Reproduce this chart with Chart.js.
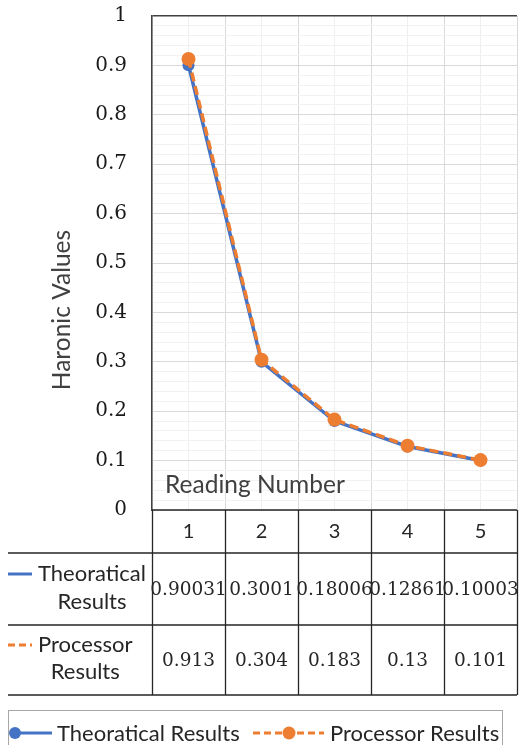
<!DOCTYPE html>
<html>
<head>
<meta charset="utf-8">
<script src="https://cdn.jsdelivr.net/npm/chart.js@4.4.0/dist/chart.umd.min.js"></script>
<style>
  html, body { margin: 0; padding: 0; background: #fff; overflow: hidden; }
  canvas { display: block; }
</style>
</head>
<body>
<canvas id="myChart" width="519" height="745" style="width:519px;height:745px"></canvas>
<script>
const readings = [1, 2, 3, 4, 5];
const theoretical = [0.90031, 0.3001, 0.18006, 0.12861, 0.10003];
const processor = [0.913, 0.304, 0.183, 0.13, 0.101];
const seriesNames = ["Theoratical Results", "Processor Results"];
const yLabels = ["0", "0.1", "0.2", "0.3", "0.4", "0.5", "0.6", "0.7", "0.8", "0.9", "1"];

const blue = "#4472C4";
const orange = "#ED7D31";
const dark = "#404040";
const sans = "Lato, 'Open Sans', sans-serif";
const serif = "'DejaVu Serif', serif";

const toPoints = (values) => readings.map((r, i) => ({ x: r, y: values[i] }));

// table under the plot + legend box, drawn from the same arrays
const tablePlugin = {
  id: "dataTable",
  afterDraw(chart) {
    const ctx = chart.ctx;
    const xs = chart.scales.x;
    const area = chart.chartArea;
    const rows = [area.bottom, 553, 625, 695];

    ctx.save();

    // y axis title
    ctx.save();
    ctx.translate(62, 310);
    ctx.rotate(-Math.PI / 2);
    ctx.font = "24.5px " + sans;
    ctx.fillStyle = dark;
    ctx.textAlign = "center";
    ctx.textBaseline = "middle";
    ctx.fillText("Haronic Values", 0, 0);
    ctx.restore();

    // x title sitting inside the plot
    ctx.font = "24.5px " + sans;
    ctx.fillStyle = dark;
    ctx.textAlign = "left";
    ctx.textBaseline = "middle";
    ctx.fillText("Reading Number", 165, 485);

    // table lines
    ctx.strokeStyle = "#262626";
    ctx.lineWidth = 1.3;
    ctx.beginPath();
    ctx.moveTo(area.left, rows[0]);
    ctx.lineTo(area.right, rows[0]);
    for (let i = 1; i < rows.length; i++) {
      ctx.moveTo(8, rows[i]);
      ctx.lineTo(area.right, rows[i]);
    }
    for (let i = 0; i <= readings.length; i++) {
      const px = Math.round(xs.getPixelForValue(readings[0] - 0.5 + i)) + 0.5;
      ctx.moveTo(px, rows[0]);
      ctx.lineTo(px, rows[3]);
    }
    ctx.stroke();

    // header row
    ctx.fillStyle = "#262626";
    ctx.textAlign = "center";
    ctx.font = "20px " + sans;
    readings.forEach((r) => {
      ctx.fillText(String(r), xs.getPixelForValue(r), 532);
    });

    // value rows
    ctx.font = "18.5px " + serif;
    theoretical.forEach((v, i) => {
      ctx.fillText(String(v), xs.getPixelForValue(readings[i]), 590);
    });
    processor.forEach((v, i) => {
      ctx.fillText(String(v), xs.getPixelForValue(readings[i]), 661);
    });

    // row headers with legend keys
    const rowLabel = (name, color, dash, y1, y2) => {
      const parts = name.split(" ");
      ctx.strokeStyle = color;
      ctx.lineWidth = 3;
      ctx.setLineDash(dash);
      ctx.beginPath();
      ctx.moveTo(8, y1);
      ctx.lineTo(32, y1);
      ctx.stroke();
      ctx.setLineDash([]);
      ctx.font = "22px " + sans;
      ctx.fillStyle = "#262626";
      const w = ctx.measureText(parts[0]).width;
      const cx = 38 + w / 2;
      ctx.textAlign = "center";
      ctx.fillText(parts[0], cx, y1);
      ctx.fillText(parts[1], cx, y2);
    };
    rowLabel(seriesNames[0], blue, [], 574, 602);
    rowLabel(seriesNames[1], orange, [7, 4], 645, 672);

    // legend box
    ctx.strokeStyle = "#a6a6a6";
    ctx.lineWidth = 1;
    ctx.strokeRect(8.5, 710.5, 494, 60);

    const ly = 733;
    ctx.lineWidth = 3;
    ctx.strokeStyle = blue;
    ctx.beginPath();
    ctx.moveTo(15, ly);
    ctx.lineTo(52, ly);
    ctx.stroke();
    ctx.fillStyle = blue;
    ctx.beginPath();
    ctx.arc(15, ly, 6, 0, Math.PI * 2);
    ctx.fill();

    ctx.strokeStyle = orange;
    ctx.setLineDash([7, 4]);
    ctx.beginPath();
    ctx.moveTo(253, ly);
    ctx.lineTo(324, ly);
    ctx.stroke();
    ctx.setLineDash([]);
    ctx.fillStyle = orange;
    ctx.beginPath();
    ctx.arc(289, ly, 6.5, 0, Math.PI * 2);
    ctx.fill();

    ctx.font = "22px " + sans;
    ctx.fillStyle = "#262626";
    ctx.textAlign = "left";
    ctx.fillText(seriesNames[0], 57, ly + 1);
    ctx.fillText(seriesNames[1], 330, ly + 1);

    ctx.restore();
  },
};

const ctx = document.getElementById("myChart");
new Chart(ctx, {
  type: "line",
  data: {
    datasets: [
      {
        label: seriesNames[0],
        data: toPoints(theoretical),
        borderColor: blue,
        backgroundColor: blue,
        borderWidth: 3.5,
        pointRadius: 6,
        pointBorderWidth: 0,
        pointBackgroundColor: blue,
        order: 2,
      },
      {
        label: seriesNames[1],
        data: toPoints(processor),
        borderColor: orange,
        backgroundColor: orange,
        borderWidth: 3.5,
        borderDash: [9, 5],
        pointRadius: 7,
        pointBorderWidth: 0,
        pointBackgroundColor: orange,
        order: 1,
      },
    ],
  },
  options: {
    responsive: false,
    animation: false,
    layout: { autoPadding: false, padding: { top: 16, right: 2, bottom: 235, left: 0 } },
    plugins: {
      legend: { display: false },
      tooltip: { enabled: false },
    },
    scales: {
      x: {
        type: "linear",
        min: readings[0] - 0.5,
        max: readings[readings.length - 1] + 0.5,
        ticks: { display: false, stepSize: 0.5 },
        border: { display: false },
        grid: {
          drawTicks: false,
          color: (c) => (Math.round(c.tick.value * 2) % 2 === 1 ? "#d9d9d9" : "#efefef"),
        },
        afterFit: (scale) => {
          scale.height = 0;
          scale.paddingLeft = 0;
          scale.paddingRight = 0;
        },
      },
      y: {
        min: 0,
        max: 1,
        border: { color: dark, width: 1.5 },
        ticks: {
          stepSize: 0.02,
          autoSkip: false,
          padding: 25,
          color: "#1a1a1a",
          font: { family: serif, size: 20 },
          callback: (v) => {
            const k = Math.round(v * 50);
            return k % 5 === 0 ? yLabels[k / 5] : "";
          },
        },
        grid: {
          drawTicks: false,
          color: (c) => {
            const k = Math.round(c.tick.value * 50);
            if (k === 50) return dark;
            return k % 5 === 0 ? "#d9d9d9" : "#f2f2f2";
          },
          lineWidth: (c) => (Math.round(c.tick.value * 50) === 50 ? 1.5 : 1),
        },
        afterFit: (scale) => {
          scale.width = 152;
          scale.paddingTop = 0;
          scale.paddingBottom = 0;
        },
      },
    },
  },
  plugins: [tablePlugin],
});
</script>
</body>
</html>
